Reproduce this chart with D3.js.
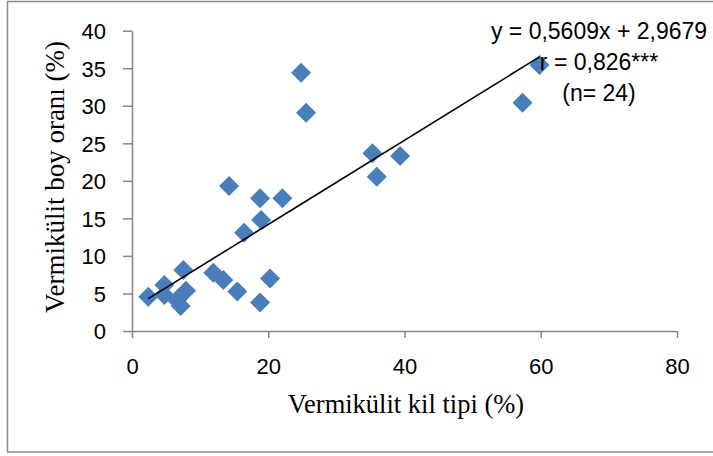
<!DOCTYPE html>
<html>
<head>
<meta charset="utf-8">
<script src="https://cdn.jsdelivr.net/npm/d3@7"></script>
<style>
  html, body { margin: 0; padding: 0; background: #fff; }
  svg { display: block; }
</style>
</head>
<body>
<svg id="chart" width="713" height="456"></svg>
<script>
// ---- data ----
const xValues = [2.39, 4.74, 4.74, 6.56, 7.15, 7.53, 7.93, 11.94, 13.41, 14.25, 15.46, 16.45,
                 18.8, 18.8, 18.95, 20.27, 22.07, 24.82, 25.55, 35.29, 35.94, 39.36, 57.32, 59.82];
const yValues = [4.57, 6.13, 4.80, 4.13, 3.33, 8.13, 5.37, 7.77, 6.79, 19.31, 5.26, 13.09,
                 17.68, 3.80, 14.79, 6.99, 17.68, 34.4, 29.08, 23.67, 20.55, 23.31, 30.41, 35.43];
const xTicks = [0, 20, 40, 60, 80];
const yTicks = [0, 5, 10, 15, 20, 25, 30, 35, 40];
const slope = 0.5609;
const intercept = 2.9679;
const annotation = ["y = 0,5609x + 2,9679", "r = 0,826***", "(n= 24)"];
const xTitle = "Vermikülit kil tipi (%)";
const yTitle = "Vermikülit boy oranı (%)";

// ---- layout ----
const svg = d3.select("#chart");
const plot = { left: 132, right: 677, top: 30.7, bottom: 331 };
const x = d3.scaleLinear().domain([0, 80]).range([plot.left, plot.right]);
const y = d3.scaleLinear().domain([0, 40]).range([plot.bottom, plot.top]);
const axisColor = "#868686";
const sansFont = "'Liberation Sans', Arial, sans-serif";
const serifFont = "'Liberation Serif', 'Times New Roman', serif";

// outer chart border
svg.append("rect")
  .attr("x", 7.5).attr("y", 1.5)
  .attr("width", 720).attr("height", 450.5)
  .attr("fill", "none").attr("stroke", "#8a8a8a").attr("stroke-width", 1.5);

// x axis
const xAxis = svg.append("g")
  .attr("transform", `translate(0,${plot.bottom})`)
  .call(d3.axisBottom(x).tickValues(xTicks).tickSize(7).tickPadding(20).tickSizeOuter(0));
// y axis
const yAxis = svg.append("g")
  .attr("transform", `translate(${plot.left},0)`)
  .call(d3.axisLeft(y).tickValues(yTicks).tickSize(9).tickPadding(17).tickSizeOuter(0));

[xAxis, yAxis].forEach(g => {
  g.select(".domain").attr("stroke", axisColor).attr("stroke-width", 1.5);
  g.selectAll(".tick line").attr("stroke", axisColor).attr("stroke-width", 1.5);
  g.selectAll(".tick text")
    .attr("fill", "#000")
    .style("font-family", sansFont)
    .style("font-size", "22px");
});
yAxis.selectAll(".tick text").attr("dy", "0.36em");

// points (diamonds)
const r = 10;
const diamond = `M0,${-r}L${r},0L0,${r}L${-r},0Z`;
svg.append("g").selectAll("path")
  .data(xValues.map((v, i) => [v, yValues[i]]))
  .join("path")
  .attr("d", diamond)
  .attr("transform", d => `translate(${x(d[0])},${y(d[1])})`)
  .attr("fill", "#4A7EBB");

// trend line (drawn over the points)
const xMin = d3.min(xValues), xMax = d3.max(xValues);
svg.append("line")
  .attr("x1", x(xMin)).attr("y1", y(slope * xMin + intercept))
  .attr("x2", x(xMax)).attr("y2", y(slope * xMax + intercept))
  .attr("stroke", "#000").attr("stroke-width", 1.6);

// annotation text
svg.append("g").selectAll("text")
  .data(annotation)
  .join("text")
  .attr("x", 599)
  .attr("y", (d, i) => 38.5 + i * 31)
  .attr("text-anchor", "middle")
  .style("font-family", sansFont)
  .style("font-size", "23px")
  .attr("fill", "#000")
  .text(d => d);

// axis titles
svg.append("text")
  .attr("x", 406).attr("y", 413)
  .attr("text-anchor", "middle")
  .style("font-family", serifFont)
  .style("font-size", "26.5px")
  .attr("fill", "#000")
  .text(xTitle);

svg.append("text")
  .attr("transform", "translate(64,177) rotate(-90)")
  .attr("text-anchor", "middle")
  .style("font-family", serifFont)
  .style("font-size", "27px")
  .attr("fill", "#000")
  .text(yTitle);
</script>
</body>
</html>
